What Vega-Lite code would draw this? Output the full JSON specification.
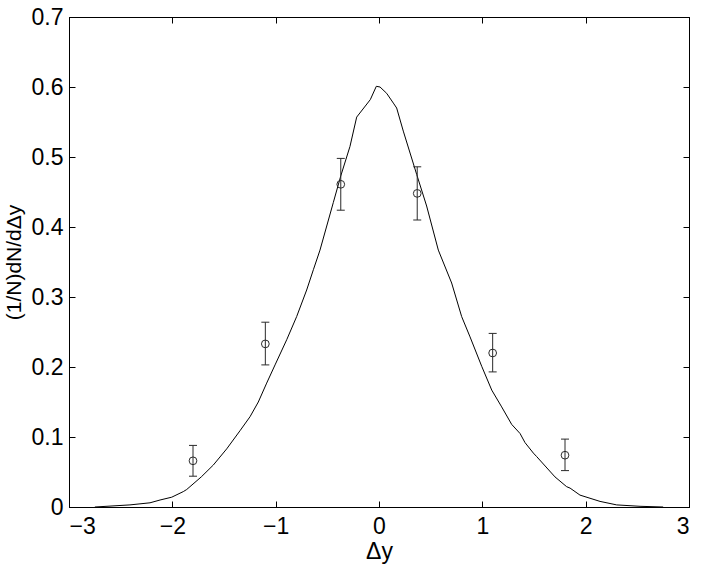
{
  "$schema": "https://vega.github.io/schema/vega-lite/v6.json",
  "width": 620,
  "height": 490,
  "autosize": {"type": "none"},
  "padding": {"left": 69, "top": 17, "right": 22, "bottom": 59},
  "background": "white",
  "config": {
    "view": {"stroke": "black", "strokeWidth": 1},
    "font": "Liberation Sans",
    "axis": {
      "grid": false,
      "domainColor": "black",
      "tickColor": "black",
      "labelColor": "black",
      "titleColor": "black",
      "labelFont": "Liberation Sans",
      "titleFont": "Liberation Sans",
      "labelFontSize": 23,
      "titleFontSize": 23,
      "titleFontWeight": "normal",
      "tickSize": -6,
      "labelPadding": 12
    }
  },
  "datasets": {
    "curve": [
      {"dy": -2.75, "v": 0.0},
      {"dy": -2.41, "v": 0.003},
      {"dy": -2.216, "v": 0.006},
      {"dy": -2.119, "v": 0.010},
      {"dy": -2.006, "v": 0.014},
      {"dy": -1.894, "v": 0.022},
      {"dy": -1.861, "v": 0.025},
      {"dy": -1.72, "v": 0.043},
      {"dy": -1.603, "v": 0.060},
      {"dy": -1.474, "v": 0.083},
      {"dy": -1.345, "v": 0.109},
      {"dy": -1.248, "v": 0.129},
      {"dy": -1.168, "v": 0.150},
      {"dy": -1.087, "v": 0.177},
      {"dy": -1.006, "v": 0.203},
      {"dy": -0.893, "v": 0.239},
      {"dy": -0.797, "v": 0.272},
      {"dy": -0.700, "v": 0.310},
      {"dy": -0.635, "v": 0.339},
      {"dy": -0.571, "v": 0.367},
      {"dy": -0.442, "v": 0.435},
      {"dy": -0.370, "v": 0.473},
      {"dy": -0.281, "v": 0.515},
      {"dy": -0.216, "v": 0.557},
      {"dy": -0.084, "v": 0.582},
      {"dy": -0.026, "v": 0.601},
      {"dy": 0.010, "v": 0.600},
      {"dy": 0.074, "v": 0.591},
      {"dy": 0.139, "v": 0.577},
      {"dy": 0.171, "v": 0.570},
      {"dy": 0.235, "v": 0.537},
      {"dy": 0.365, "v": 0.475},
      {"dy": 0.461, "v": 0.430},
      {"dy": 0.574, "v": 0.367},
      {"dy": 0.703, "v": 0.320},
      {"dy": 0.800, "v": 0.272},
      {"dy": 0.881, "v": 0.243},
      {"dy": 0.994, "v": 0.201},
      {"dy": 1.091, "v": 0.167},
      {"dy": 1.187, "v": 0.143},
      {"dy": 1.284, "v": 0.118},
      {"dy": 1.365, "v": 0.105},
      {"dy": 1.413, "v": 0.092},
      {"dy": 1.494, "v": 0.077},
      {"dy": 1.526, "v": 0.072},
      {"dy": 1.703, "v": 0.043},
      {"dy": 1.816, "v": 0.029},
      {"dy": 1.849, "v": 0.027},
      {"dy": 1.945, "v": 0.017},
      {"dy": 2.139, "v": 0.008},
      {"dy": 2.30, "v": 0.003},
      {"dy": 2.526, "v": 0.001},
      {"dy": 2.75, "v": 0.0}
    ],
    "points": [
      {"dy": -1.8, "v": 0.066, "lo": 0.044, "hi": 0.088},
      {"dy": -1.1, "v": 0.233, "lo": 0.203, "hi": 0.264},
      {"dy": -0.37, "v": 0.461, "lo": 0.424, "hi": 0.498},
      {"dy": 0.37, "v": 0.448, "lo": 0.410, "hi": 0.486},
      {"dy": 1.1, "v": 0.220, "lo": 0.193, "hi": 0.248},
      {"dy": 1.8, "v": 0.074, "lo": 0.052, "hi": 0.097}
    ]
  },
  "layer": [
    {
      "data": {"name": "curve"},
      "mark": {"type": "line", "color": "black", "strokeWidth": 1, "clip": true},
      "encoding": {
        "x": {"field": "dy", "type": "quantitative", "scale": {"domain": [-3, 3], "nice": false},
          "axis": {"orient": "bottom", "title": "Δy", "values": [-3, -2, -1, 0, 1, 2, 3], "titlePadding": 2, "labelPadding": 14}},
        "y": {"field": "v", "type": "quantitative", "scale": {"domain": [0, 0.7], "nice": false},
          "axis": {"orient": "left", "title": "(1/N)dN/dΔy", "values": [0, 0.1, 0.2, 0.3, 0.4, 0.5, 0.6, 0.7], "format": "~f", "titleFontSize": 21, "titleX": -55, "titleBaseline": "middle"}}
      }
    },
    {
      "data": {"name": "points"},
      "mark": {"type": "errorbar", "color": "#2a2a2a", "opacity": 1, "ticks": {"size": 8, "color": "#2a2a2a", "opacity": 1}, "rule": {"strokeWidth": 1, "opacity": 1}},
      "encoding": {
        "x": {"field": "dy", "type": "quantitative",
          "axis": {"orient": "top", "title": null, "labels": false, "values": [-3, -2, -1, 0, 1, 2, 3]}},
        "y": {"field": "lo", "type": "quantitative",
          "axis": {"orient": "right", "title": null, "labels": false, "values": [0, 0.1, 0.2, 0.3, 0.4, 0.5, 0.6, 0.7]}},
        "y2": {"field": "hi"}
      }
    },
    {
      "data": {"name": "points"},
      "mark": {"type": "point", "shape": "circle", "filled": false, "size": 60, "color": "#2a2a2a", "opacity": 1, "strokeWidth": 1},
      "encoding": {
        "x": {"field": "dy", "type": "quantitative", "axis": null},
        "y": {"field": "v", "type": "quantitative", "axis": null}
      }
    }
  ],
  "resolve": {"axis": {"x": "independent", "y": "independent"}}
}
